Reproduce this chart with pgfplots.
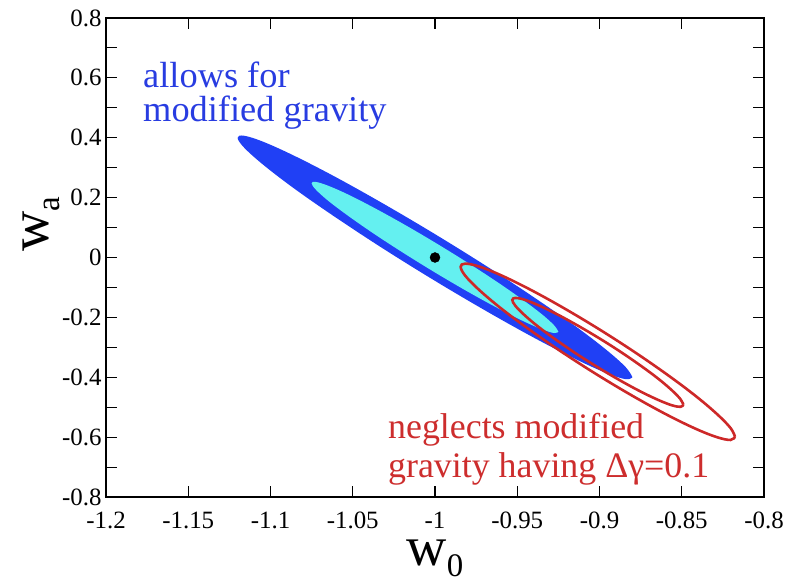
\documentclass[border=0pt]{standalone}
\usepackage{pgfplots}
\pgfplotsset{compat=1.18}
\usepackage{fontspec}
\setmainfont{Liberation Serif}
\usetikzlibrary{calc}
\definecolor{cblue}{RGB}{32,64,245}
\definecolor{ccyan}{RGB}{100,240,240}
\definecolor{cred}{RGB}{205,40,40}
\definecolor{tblue}{RGB}{40,60,225}
\definecolor{tred}{RGB}{205,45,45}
\begin{document}
\begin{tikzpicture}
\begin{axis}[name=ax,
  width=658bp, height=479bp, scale only axis,
  xmin=-1.2, xmax=-0.8, ymin=-0.8, ymax=0.8,
  xtick={-1.2,-1.15,-1.1,-1.05,-1,-0.95,-0.9,-0.85,-0.8},
  xticklabels={-1.2,-1.15,-1.1,-1.05,-1,-0.95,-0.9,-0.85,-0.8},
  ytick={-0.8,-0.6,-0.4,-0.2,0,0.2,0.4,0.6,0.8},
  yticklabels={-0.8,-0.6,-0.4,-0.2,0,0.2,0.4,0.6,0.8},
  minor ytick={-0.7,-0.5,-0.3,-0.1,0.1,0.3,0.5,0.7},
  tick align=inside, tick pos=both,
  major tick length=11bp, minor tick length=11bp,
  axis line style={line width=1.3bp},
  every tick/.style={black, line width=1.1bp},
  /pgf/number format/assume math mode=true,
  ticklabel style={font=\fontsize{25}{25}\selectfont},
  xticklabel style={inner sep=1bp, yshift=-14bp},
  yticklabel style={xshift=-1bp},
  every axis x label/.style={at={(axis description cs:0.5,-0.142)}, anchor=base, inner sep=0pt},
  every axis y label/.style={at={(axis description cs:-0.088,0.57)}, anchor=base, rotate=90, inner sep=0pt},
  xlabel={\fontsize{56}{56}\selectfont w\raisebox{-0.2em}{\fontsize{33}{33}\selectfont 0}},
  ylabel={\fontsize{56}{56}\selectfont w\raisebox{-0.2em}{\fontsize{33}{33}\selectfont a}},
]
% outer blue (2 sigma, with modified gravity)
\addplot[fill=cblue, draw=none, smooth, tension=0.6] coordinates {
(-0.88,-0.4) (-0.8841,-0.3662) (-0.8961,-0.3074) (-0.9151,-0.2276) (-0.94,-0.1325)
(-0.9689,-0.0282) (-1,0.078) (-1.0311,0.1788) (-1.06,0.2675) (-1.0849,0.3380)
(-1.1039,0.3854) (-1.1159,0.4066) (-1.12,0.4) (-1.1159,0.3662) (-1.1039,0.3074)
(-1.0849,0.2276) (-1.06,0.1325) (-1.0311,0.0282) (-1,-0.078) (-0.9689,-0.1788)
(-0.94,-0.2675) (-0.9151,-0.3380) (-0.8961,-0.3854) (-0.8841,-0.4066) (-0.88,-0.4)
};
% inner cyan (1 sigma)
\addplot[fill=ccyan, draw=none, smooth, tension=0.6] coordinates {
(-0.925,-0.248) (-0.9276,-0.2266) (-0.935,-0.1898) (-0.947,-0.1400) (-0.9625,-0.0807)
(-0.9806,-0.0159) (-1,0.05) (-1.0194,0.1125) (-1.0375,0.1673) (-1.053,0.2108)
(-1.065,0.2398) (-1.0724,0.2524) (-1.075,0.248) (-1.0724,0.2266) (-1.065,0.1898)
(-1.053,0.1400) (-1.0375,0.0807) (-1.0194,0.0159) (-1,-0.05) (-0.9806,-0.1125)
(-0.9625,-0.1673) (-0.947,-0.2108) (-0.935,-0.2398) (-0.9276,-0.2524) (-0.925,-0.248)
};
% red outer (neglecting modified gravity)
\addplot[draw=cred, line width=2.6bp, smooth, tension=0.6] coordinates {
(-0.8176,-0.599) (-0.8204,-0.5691) (-0.8288,-0.5219) (-0.842,-0.4606) (-0.8593,-0.3895)
(-0.8794,-0.3132) (-0.901,-0.237) (-0.9226,-0.1662) (-0.9427,-0.1055) (-0.96,-0.059)
(-0.9732,-0.0301) (-0.9816,-0.0205) (-0.9844,-0.031) (-0.9816,-0.0609) (-0.9732,-0.1081)
(-0.96,-0.1694) (-0.9427,-0.2405) (-0.9226,-0.3168) (-0.901,-0.393) (-0.8794,-0.4638)
(-0.8593,-0.5245) (-0.842,-0.571) (-0.8288,-0.5999) (-0.8204,-0.6095) (-0.8176,-0.599)
};
% red inner
\addplot[draw=cred, line width=2.6bp, smooth, tension=0.6] coordinates {
(-0.849,-0.492) (-0.8508,-0.4731) (-0.856,-0.4436) (-0.8642,-0.4053) (-0.875,-0.3612)
(-0.8875,-0.314) (-0.901,-0.267) (-0.9145,-0.2234) (-0.927,-0.1862) (-0.9378,-0.1579)
(-0.946,-0.1404) (-0.9512,-0.1351) (-0.953,-0.142) (-0.9512,-0.1609) (-0.946,-0.1904)
(-0.9378,-0.2287) (-0.927,-0.2728) (-0.9145,-0.32) (-0.901,-0.367) (-0.8875,-0.4106)
(-0.875,-0.4478) (-0.8642,-0.4761) (-0.856,-0.4936) (-0.8508,-0.4989) (-0.849,-0.492)
};
% fiducial model
\addplot[only marks, mark=*, mark size=5bp, black] coordinates {(-1,0)};
\node[anchor=base west, text=tblue, inner sep=0pt, font=\fontsize{36.5}{36.5}\selectfont] at (axis cs:-1.1775,0.5695) {allows for};
\node[anchor=base west, text=tblue, inner sep=0pt, font=\fontsize{36.5}{36.5}\selectfont] at (axis cs:-1.1775,0.453) {modified gravity};
\node[anchor=base west, text=tred, inner sep=0pt, font=\fontsize{36}{36}\selectfont] at (axis cs:-1.0286,-0.603) {neglects modified};
\node[anchor=base west, text=tred, inner sep=0pt, font=\fontsize{36}{36}\selectfont] at (axis cs:-1.0286,-0.7365) {gravity having Δγ=0.1};
\end{axis}
\pgfresetboundingbox
\path ($(ax.south west)+(-106bp,-87bp)$) rectangle ($(ax.north east)+(21bp,18bp)$);
\end{tikzpicture}
\end{document}
